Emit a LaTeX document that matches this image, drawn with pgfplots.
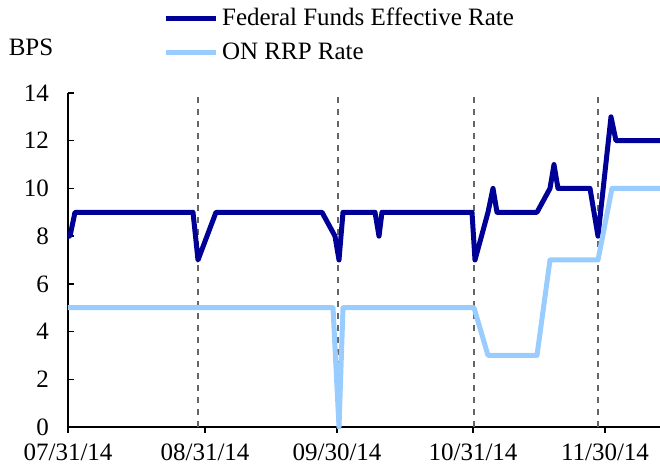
\documentclass[border=0pt]{standalone}
\usepackage{fontspec}
\setmainfont{Liberation Serif}
\usepackage{pgfplots}
\pgfplotsset{compat=1.18}
\definecolor{ffblue}{RGB}{0,0,150}
\definecolor{rrpblue}{RGB}{153,204,255}
\begin{document}
\begin{tikzpicture}
\begin{axis}[
  name=ax,
  scale only axis,
  width=296pt, height=167pt,
  xmin=0, xmax=592, ymin=0, ymax=14,
  clip=false,
  axis x line=bottom, axis y line=left,
  axis line style={-, line width=0.75pt},
  xtick={0,137,269,405,537},
  xticklabels={07/31/14,08/31/14,09/30/14,10/31/14,11/30/14},
  ytick={0,2,...,14},
  xtick align=outside, ytick align=inside,
  major tick length=3pt,
  tick style={black, line width=0.75pt},
  /pgf/number format/assume math mode=true,
  tick label style={font=\fontsize{12.5}{15}\selectfont},
  yticklabel style={xshift=-6pt},
  xticklabel style={yshift=-2pt},
  legend style={at={(axis description cs:0.16,1.268)}, anchor=north west,
    draw=none, fill=none, inner sep=0pt,
    font=\fontsize{12.5}{15}\selectfont, row sep=3pt},
  legend cell align=left,
  legend image code/.code={\draw[#1] (0pt,0pt) -- (25pt,0pt);},
]
\addplot[gray!80!black, dashed, line width=0.6pt, forget plot] coordinates {(130,0) (130,14)};
\addplot[gray!80!black, dashed, line width=0.6pt, forget plot] coordinates {(270,0) (270,14)};
\addplot[gray!80!black, dashed, line width=0.6pt, forget plot] coordinates {(406,0) (406,14)};
\addplot[gray!80!black, dashed, line width=0.6pt, forget plot] coordinates {(530,0) (530,14)};
% Federal Funds Effective Rate
\addplot[ffblue, line width=2.5pt, line join=round] coordinates {
  (0,8) (2,8) (7,9) (125,9) (130,7) (148,9) (254,9) (267,8) (271,7) (275,9)
  (307,9) (311,8) (314,9) (404,9) (407,7) (420,9) (425,10) (429,9) (469,9)
  (482,10) (486,11) (490,10) (522,10) (530,8) (543,13) (548,12) (592,12)
};
% ON RRP Rate
\addplot[rrpblue, line width=2.5pt, line join=round] coordinates {
  (0,5) (265,5) (271,0) (275,5) (406,5) (420,3) (469,3) (482,7) (530,7)
  (544,10) (592,10)
};
\legend{Federal Funds Effective Rate, ON RRP Rate}
\node[font=\fontsize{12.5}{15}\selectfont] at (axis description cs:-0.0625,1.138) {BPS};
\end{axis}
\pgfresetboundingbox
\path ([xshift=-34pt,yshift=-22pt]ax.south west) rectangle ([yshift=46.5pt]ax.north east);
\end{tikzpicture}
\end{document}
